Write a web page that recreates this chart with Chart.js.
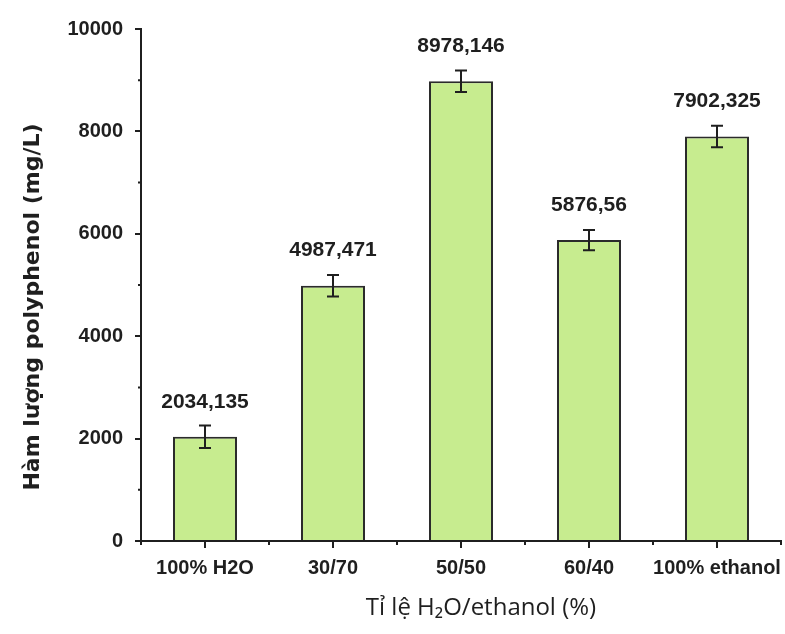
<!DOCTYPE html>
<html>
<head>
<meta charset="utf-8">
<script src="https://cdn.jsdelivr.net/npm/chart.js@4.4.1/dist/chart.umd.min.js"></script>
<style>
  html, body { margin: 0; padding: 0; background: #ffffff; }
  #wrap { width: 785px; height: 634px; }
</style>
</head>
<body>
<div id="wrap"><canvas id="chart" width="785" height="634"></canvas></div>
<script>
// Polyphenol content by H2O/ethanol extraction ratio
const categories = ['100% H2O', '30/70', '50/50', '60/40', '100% ethanol'];
const polyphenol = [2034.135, 4987.471, 8978.146, 5876.56, 7902.325];
const errors = [220, 210, 210, 200, 210];
const yTicks = [0, 2000, 4000, 6000, 8000, 10000];
const xTitle = 'Tỉ lệ H₂O/ethanol (%)';
const yTitle = 'Hàm lượng polyphenol (mg/L)';

const INK = '#1f1f1f';

// Error bars, value labels, minor tick marks and axis titles
const extras = {
  id: 'extras',
  afterDatasetsDraw(chart) {
    const ctx = chart.ctx;
    const x = chart.scales.x, y = chart.scales.y;
    const meta = chart.getDatasetMeta(0);
    ctx.save();
    ctx.strokeStyle = INK;
    ctx.lineWidth = 2;
    meta.data.forEach((bar, i) => {
      const v = polyphenol[i], e = errors[i];
      const cx = bar.x;
      const yHi = y.getPixelForValue(v + e);
      const yLo = y.getPixelForValue(v - e);
      ctx.beginPath();
      ctx.moveTo(cx, yHi); ctx.lineTo(cx, yLo);
      ctx.moveTo(cx - 6, yHi); ctx.lineTo(cx + 6, yHi);
      ctx.moveTo(cx - 6, yLo); ctx.lineTo(cx + 6, yLo);
      ctx.stroke();
      ctx.fillStyle = INK;
      ctx.font = 'bold 21px "Liberation Sans", Arial, sans-serif';
      ctx.textAlign = 'center';
      ctx.textBaseline = 'middle';
      ctx.fillText(String(v).replace('.', ','), cx, y.getPixelForValue(v) - 35);
    });
    // minor ticks on the y axis (odd thousands)
    ctx.beginPath();
    for (let t = 1000; t < 10000; t += 2000) {
      const py = y.getPixelForValue(t);
      ctx.moveTo(x.left - 3, py); ctx.lineTo(x.left, py);
    }
    // minor ticks on the x axis (category boundaries)
    for (let i = 0; i <= categories.length; i++) {
      const px = x.getPixelForValue(i - 0.5);
      ctx.moveTo(px, y.bottom); ctx.lineTo(px, y.bottom + 4);
    }
    ctx.stroke();

    // axis titles
    ctx.fillStyle = INK;
    ctx.textAlign = 'center';
    ctx.textBaseline = 'middle';
    ctx.font = '24px "Open Sans", sans-serif';
    ctx.fillText(xTitle, 481, 608);
    ctx.translate(33, 307);
    ctx.rotate(-Math.PI / 2);
    ctx.font = 'bold 22px "DejaVu Sans", sans-serif';
    ctx.fillText(yTitle, 0, 0);
    ctx.restore();
  }
};

new Chart(document.getElementById('chart'), {
  type: 'bar',
  data: {
    labels: categories,
    datasets: [{
      data: polyphenol,
      backgroundColor: '#c7ec8f',
      borderColor: '#2b2b2b',
      borderWidth: 2,
      barPercentage: 0.5,
      categoryPercentage: 1.0
    }]
  },
  options: {
    responsive: false,
    animation: false,
    layout: { padding: { top: 29, right: 4, left: 0, bottom: 0 } },
    plugins: { legend: { display: false }, tooltip: { enabled: false } },
    scales: {
      x: {
        offset: true,
        grid: { display: true, offset: false, drawOnChartArea: false, color: INK, lineWidth: 2, tickLength: 7 },
        border: { display: true, color: INK, width: 2 },
        ticks: { color: INK, padding: 8, maxRotation: 0, autoSkip: false,
                 font: { family: '"Liberation Sans", Arial, sans-serif', size: 20, weight: 'bold' } },
        afterFit(s) { s.height = 93; s.paddingLeft = 0; s.paddingRight = 0; }
      },
      y: {
        min: 0, max: 10000,
        afterBuildTicks(s) { s.ticks = yTicks.map(v => ({ value: v })); },
        grid: { display: true, drawOnChartArea: false, color: INK, lineWidth: 2, tickLength: 6 },
        border: { display: true, color: INK, width: 2 },
        ticks: { color: INK, padding: 12, callback: v => String(v),
                 font: { family: '"Liberation Sans", Arial, sans-serif', size: 20, weight: 'bold' } },
        afterFit(s) { s.width = 141; }
      }
    }
  },
  plugins: [extras]
});
</script>
</body>
</html>
